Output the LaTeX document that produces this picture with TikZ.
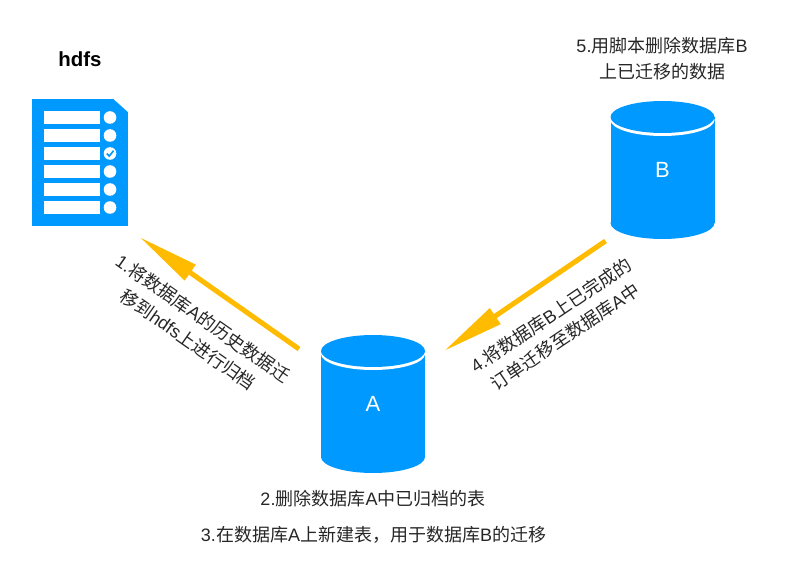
\documentclass[tikz,border=0pt]{standalone}
\usepackage{fontspec}
\setmainfont{Liberation Sans}
\newfontfamily\cjk{Noto Sans CJK SC}
\newcommand{\zh}[1]{{\cjk #1}}
\usepackage{xcolor}
\usepackage{tikz}
\usetikzlibrary{shapes.geometric,arrows.meta,positioning}

\definecolor{dbblue}{HTML}{0099FF}
\definecolor{flowyellow}{HTML}{FFBB00}

\tikzset{
  dbbody/.style={rectangle,fill=dbblue,text=white,minimum width=104pt,minimum height=106pt,
    inner sep=0pt,outer sep=0pt,font=\fontsize{22}{22}\selectfont},
  dbrim/.style={ellipse,fill=white,minimum width=104pt,minimum height=32pt,inner sep=0pt,outer sep=0pt},
  dbcap/.style={ellipse,fill=dbblue,minimum width=104pt,minimum height=32pt,inner sep=0pt,outer sep=0pt},
  rowbar/.style={rectangle,fill=white,minimum width=56pt,minimum height=13pt,inner sep=0pt,outer sep=0pt},
  rowdot/.style={circle,fill=white,minimum size=12.6pt,inner sep=0pt,outer sep=0pt,right=3.7pt of #1},
  flowarrow/.style={draw=flowyellow,line width=5pt,-{Triangle[length=62pt,width=18pt]}},
  steptext/.style={align=center,inner sep=0pt,text=black!85,font=\fontsize{18}{26}\selectfont}
}

\begin{document}
\begin{tikzpicture}[x=1pt,y=-1pt,node distance=5pt]
\useasboundingbox (0,0) rectangle (792,588);

% hdfs file with its checklist
\node[rectangle,fill=dbblue,minimum width=96pt,minimum height=127pt,inner sep=0pt,outer sep=0pt] (doc) at (80,162.5) {};
\fill[white] (doc.north east) -- ([xshift=-14.5pt]doc.north east) -- ([yshift=-13pt]doc.north east) -- cycle;
\node[font=\bfseries\fontsize{20.4}{20.4}\selectfont,above=29pt of doc] (hdfs) {hdfs};

\node[rowbar] (r1) at (72,117.5) {};
\node[rowbar,below=of r1] (r2) {};
\node[rowbar,below=of r2] (r3) {};
\node[rowbar,below=of r3] (r4) {};
\node[rowbar,below=of r4] (r5) {};
\node[rowbar,below=of r5] (r6) {};
\node[rowdot=r1] (d1) {};
\node[rowdot=r2] (d2) {};
\node[rowdot=r3] (d3) {};
\node[rowdot=r4] (d4) {};
\node[rowdot=r5] (d5) {};
\node[rowdot=r6] (d6) {};
\draw[dbblue,line width=1.6pt] ([shift={(-3.2pt,0pt)}]d3.center) -- ([shift={(-0.8pt,-2.6pt)}]d3.center) -- ([shift={(3.6pt,2.8pt)}]d3.center);

% databases
\node[dbcap] (baseA) at (373,457) {};
\node[dbbody] (dbA) at (373,404) {A};
\node[dbrim,yshift=-3pt] (rimA) at (dbA.north) {};
\node[dbcap] (capA) at (dbA.north) {};

\node[dbcap] (baseB) at (662.5,223) {};
\node[dbbody] (dbB) at (662.5,170) {B};
\node[dbrim,yshift=-3pt] (rimB) at (dbB.north) {};
\node[dbcap] (capB) at (dbB.north) {};

% archive and migration flows
\draw[flowarrow] ([shift={(-22,-55)}]dbA.west) -- ([shift={(11.5,11)}]doc.south east);
\draw[flowarrow] ([shift={(-5,71)}]dbB.west) -- ([shift={(19,-53)}]dbA.east);

% steps
\node[steptext,rotate=-35] (s1) at (195.5,329) {1.\zh{将数据库}A\zh{的历史数据迁}\\\zh{移到}hdfs\zh{上进行归档}};
\node[steptext,at={(373,499)}] (s2) {2.\zh{删除数据库}A\zh{中已归档的表}};
\node[steptext,at={(373.5,535)}] (s3) {3.\zh{在数据库}A\zh{上新建表，用于数据库}B\zh{的迁移}};
\node[steptext,rotate=34] (s4) at (558,326) {4.\zh{将数据库}B\zh{上已完成的}\\\zh{订单迁移至数据库}A\zh{中}};
\node[steptext,at={(662,59)}] (s5) {5.\zh{用脚本删除数据库}B\\\zh{上已迁移的数据}};
\end{tikzpicture}
\end{document}
